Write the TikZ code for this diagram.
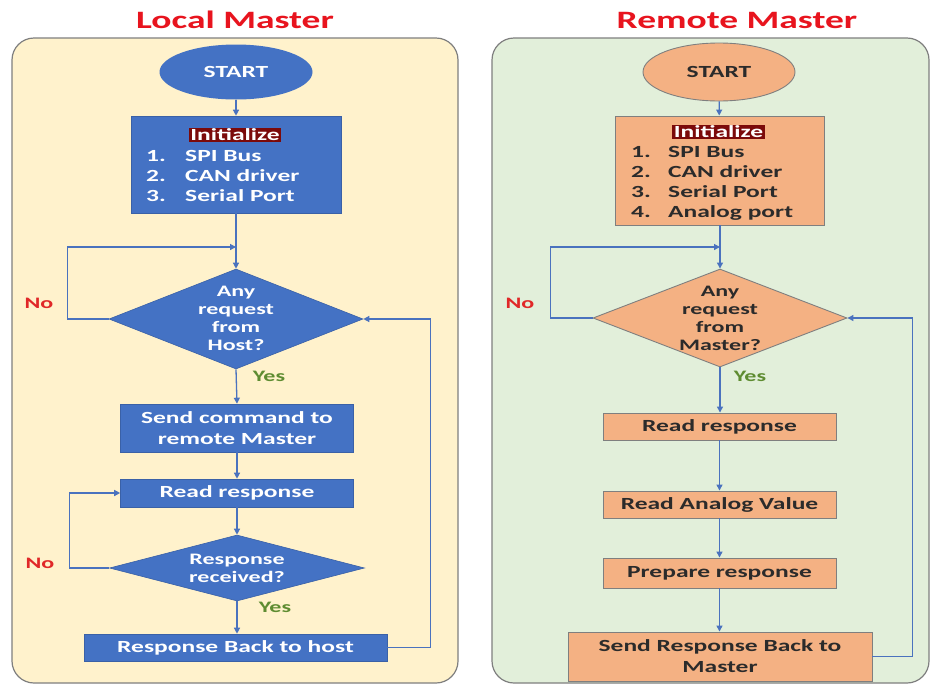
\documentclass[tikz,border=0pt]{standalone}
\usepackage{fontspec}
\setmainfont{Carlito}[FakeStretch=1.5]
\usetikzlibrary{shapes.geometric,arrows.meta}
\definecolor{blueF}{HTML}{4472C4}
\definecolor{orangeF}{HTML}{F4B183}
\definecolor{panelY}{HTML}{FFF2CC}
\definecolor{panelG}{HTML}{E2EFDA}
\definecolor{panelB}{HTML}{7F7F7F}
\definecolor{titleR}{HTML}{E8141E}
\definecolor{noR}{HTML}{E02828}
\definecolor{yesG}{HTML}{5E8C31}
\definecolor{hlR}{HTML}{7B0A0A}
\definecolor{darkT}{HTML}{2B2B2B}
\definecolor{connC}{HTML}{4A72BE}
\tikzset{
  panel/.style={draw=panelB, line width=1.2pt, rounded corners=22pt},
  titletext/.style={text=titleR, font=\fontsize{25}{30}\selectfont\bfseries, inner sep=0pt},
  bluebox/.style={rectangle, fill=blueF, draw=blueF!85!black, line width=0.6pt, inner sep=0pt},
  orangebox/.style={rectangle, fill=orangeF, draw=panelB, line width=0.9pt, inner sep=0pt},
  bigtext/.style={font=\fontsize{17}{21}\selectfont\bfseries, inner sep=0pt, align=center},
  dtext/.style={font=\fontsize{16}{18}\selectfont\bfseries, inner sep=0pt, align=center},
  hlbox/.style={fill=hlR, text=white, font=\fontsize{17}{20}\selectfont\bfseries, inner xsep=1.5pt, inner ysep=1pt},
  listitem/.style={anchor=west, font=\fontsize{17}{20}\selectfont\bfseries, inner sep=0pt},
  conn/.style={draw=connC, line width=1.3pt, -{Triangle[length=6pt,width=6pt]}},
  nolabel/.style={text=noR, font=\fontsize{16}{18}\selectfont\bfseries, inner sep=0pt},
  yeslabel/.style={text=yesG, font=\fontsize{16}{18}\selectfont\bfseries, inner sep=0pt}
}
\begin{document}
\begin{tikzpicture}[x=1pt,y=-1pt]
\useasboundingbox (0,0) rectangle (930,686);
\fill[white] (0,0) rectangle (930,686);
% panels
\filldraw[panel, fill=panelY] (12,38) rectangle (458,683);
\filldraw[panel, fill=panelG] (492,38) rectangle (929,683);
\node[titletext] (tL) at (235,20) {Local Master};
\node[titletext] (tR) at (737,20) {Remote Master};

% ---------------- Local Master ----------------
\node[ellipse, fill=blueF, inner sep=0pt, minimum width=153pt, minimum height=55pt, text=white, bigtext] (sL) at (236,72) {START};
\node[bluebox, minimum width=210pt, minimum height=97pt] (iL) at (236,164.5) {};
\node[hlbox] (iLh) at (235,135) {Initialize};
\node[listitem, text=white] (iL1) at (146,156) {\makebox[39pt][l]{1.}SPI Bus};
\node[listitem, text=white] (iL2) at (146,176) {\makebox[39pt][l]{2.}CAN driver};
\node[listitem, text=white] (iL3) at (146,196) {\makebox[39pt][l]{3.}Serial Port};

\node[diamond, fill=blueF, draw=blueF!85!black, line width=0.6pt, inner sep=0pt, minimum width=254pt, minimum height=100pt] (dL) at (236,319) {};
\node[dtext, text=white] (dLt) at (236,318) {Any\\request\\from\\Host?};

\node[bluebox, minimum width=233pt, minimum height=48pt] (cL) at (237,428) {};
\node[bigtext, text=white] (cLt) at (237,428) {Send command to\\remote Master};

\node[bluebox, minimum width=233pt, minimum height=28pt] (rL) at (237,493) {};
\node[bigtext, text=white] (rLt) at (237,493) {Read response};

\node[diamond, fill=blueF, draw=blueF!85!black, line width=0.6pt, inner sep=0pt, minimum width=255pt, minimum height=66pt] (qL) at (237,568) {};
\node[dtext, text=white] (qLt) at (237,568) {Response\\received?};

\node[bluebox, minimum width=303pt, minimum height=27pt] (bL) at (235.5,647.5) {};
\node[bigtext, text=white] (bLt) at (235.5,647.5) {Response Back to host};

\coordinate (jL) at (236,247);
\draw[conn] (sL) -- (iL);
\draw[conn] (iL.south) -- (dL.north);
\draw[conn] (dL.west) -- ++(-41pt,0) |- (jL);
\draw[conn] (dL.south) -- (cL.north);
\draw[conn] (cL.south) -- (rL.north);
\draw[conn] (rL.south) -- (qL.north);
\draw[conn] (qL.west) -- ++(-40pt,0) |- (rL.west);
\draw[conn] (qL.south) -- (qL.south |- bL.north);
\draw[conn] (bL.east) -- ++(43pt,0) |- (dL.east);
\node[nolabel] (nL1) at (39,303) {No};
\node[yeslabel] (yL1) at (269,376) {Yes};
\node[nolabel] (nL2) at (40,563) {No};
\node[yeslabel] (yL2) at (275,607) {Yes};

% ---------------- Remote Master ----------------
\node[ellipse, fill=orangeF, draw=panelB, line width=0.9pt, inner sep=0pt, minimum width=152pt, minimum height=58pt, text=darkT, bigtext] (sR) at (719,72) {START};
\node[orangebox, minimum width=209pt, minimum height=109pt] (iR) at (719.5,170.5) {};
\node[hlbox] (iRh) at (718.5,132) {Initialize};
\node[listitem, text=darkT] (iR1) at (631,152) {\makebox[37pt][l]{1.}SPI Bus};
\node[listitem, text=darkT] (iR2) at (631,172) {\makebox[37pt][l]{2.}CAN driver};
\node[listitem, text=darkT] (iR3) at (631,192) {\makebox[37pt][l]{3.}Serial Port};
\node[listitem, text=darkT] (iR4) at (631,213) {\makebox[37pt][l]{4.}Analog port};

\node[diamond, fill=orangeF, draw=panelB, line width=0.9pt, inner sep=0pt, minimum width=254pt, minimum height=98pt] (dR) at (720,318) {};
\node[dtext, text=darkT] (dRt) at (720,318) {Any\\request\\from\\Master?};

\node[orangebox, minimum width=233pt, minimum height=27pt] (rR) at (719.5,426.5) {};
\node[bigtext, text=darkT] (rRt) at (719.5,426.5) {Read response};

\node[orangebox, minimum width=233pt, minimum height=27pt] (aR) at (719.5,504.5) {};
\node[bigtext, text=darkT] (aRt) at (719.5,504.5) {Read Analog Value};

\node[orangebox, minimum width=233pt, minimum height=30pt] (pR) at (719.5,573) {};
\node[bigtext, text=darkT] (pRt) at (719.5,573) {Prepare response};

\node[orangebox, minimum width=304pt, minimum height=49pt] (sbR) at (720,656.5) {};
\node[bigtext, text=darkT] (sbRt) at (720,656.5) {Send Response Back to\\Master};

\coordinate (jR) at (720,247);
\draw[conn] (sR) -- (iR);
\draw[conn] (iR.south -| dR.north) -- (dR.north);
\draw[conn] (dR.west) -- ++(-42pt,0) |- (jR);
\draw[conn] (dR.south) -- (dR.south |- rR.north);
\draw[conn] (rR.south) -- (aR.north);
\draw[conn] (aR.south) -- (pR.north);
\draw[conn] (pR.south) -- (pR.south |- sbR.north);
\draw[conn] (sbR.east) -- ++(40pt,0) |- (dR.east);
\node[nolabel] (nR1) at (520,303) {No};
\node[yeslabel] (yR1) at (750,376) {Yes};
\end{tikzpicture}
\end{document}
